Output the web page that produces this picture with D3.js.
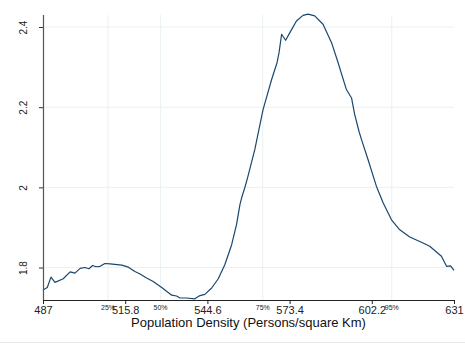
<!DOCTYPE html>
<html lang="en">
<head>
<meta charset="UTF-8">
<title>Population Density</title>
<script src="https://cdn.jsdelivr.net/npm/d3@7"></script>
<style>
  body { margin: 0; background: #fff; }
  svg { display: block; font-family: "Liberation Sans", Arial, sans-serif; }
</style>
</head>
<body>
<svg id="chart" width="465" height="349"></svg>
<script>
// density curve
var densX = [487.0, 488.5, 489.8, 491.2, 494.1, 496.5, 498.2, 500.0, 501.7, 503.1,
  504.4, 505.6, 507.0, 508.7, 510.5, 514.6, 516.9, 519.2, 521.0, 523.3,
  525.6, 528.6, 531.2, 532.1, 533.8, 535.0, 537.3, 540.2, 542.0, 543.7,
  546.1, 548.4, 550.7, 553.1, 554.8, 556.0, 556.6, 557.7, 558.6, 561.2,
  564.1, 567.1, 569.0, 569.7, 570.6, 572.0, 573.5, 575.8, 578.1, 579.9,
  582.2, 585.1, 588.1, 590.4, 593.3, 595.1, 596.2, 597.7, 598.6, 600.9,
  603.8, 606.2, 609.1, 612.0, 615.5, 619.6, 622.5, 626.6, 628.4, 629.8, 631.0];
var densY = [1.744, 1.750, 1.776, 1.763, 1.772, 1.789, 1.786, 1.798, 1.800, 1.797,
  1.805, 1.802, 1.803, 1.810, 1.809, 1.806, 1.801, 1.790, 1.784, 1.774,
  1.765, 1.750, 1.736, 1.731, 1.729, 1.724, 1.724, 1.722, 1.730, 1.733,
  1.749, 1.772, 1.807, 1.857, 1.907, 1.957, 1.974, 1.999, 2.022, 2.094,
  2.194, 2.269, 2.311, 2.336, 2.382, 2.367, 2.386, 2.415, 2.429, 2.432,
  2.428, 2.407, 2.361, 2.311, 2.244, 2.223, 2.182, 2.140, 2.119, 2.069,
  2.003, 1.961, 1.919, 1.894, 1.876, 1.863, 1.853, 1.828, 1.803, 1.804, 1.793];

var xTicks = [487, 515.8, 544.6, 573.4, 602.2, 631];
var yTicks = [1.8, 2, 2.2, 2.4];
var pctLabels = ["25%", "50%", "75%", "95%"];
var pctValues = [509.8, 528.2, 564.0, 609.2];

var svg = d3.select("#chart");

var x = d3.scaleLinear().domain([487, 631]).range([43, 454]);
var y = d3.scaleLinear().domain([1.719, 2.430]).range([300, 15]);

// light rule at the bottom of the frame
svg.append("line")
  .attr("x1", 0).attr("x2", 465)
  .attr("y1", 342.5).attr("y2", 342.5)
  .attr("stroke", "#e6e6e6");

// gridlines
svg.append("g").selectAll("line")
  .data(yTicks).enter().append("line")
  .attr("x1", 43).attr("x2", 454)
  .attr("y1", function(d) { return y(d); })
  .attr("y2", function(d) { return y(d); })
  .attr("stroke", "#eaf1f2").attr("stroke-width", 1);

svg.append("g").selectAll("line")
  .data(pctValues).enter().append("line")
  .attr("x1", function(d) { return x(d); })
  .attr("x2", function(d) { return x(d); })
  .attr("y1", 15).attr("y2", 300)
  .attr("stroke", "#eaf1f2").attr("stroke-width", 1);

// the density line
var pts = densX.map(function(d, i) { return [d, densY[i]]; });
svg.append("path")
  .datum(pts)
  .attr("fill", "none")
  .attr("stroke", "#1a476f")
  .attr("stroke-width", 1.2)
  .attr("stroke-linejoin", "round")
  .attr("d", d3.line()
    .x(function(d) { return x(d[0]); })
    .y(function(d) { return y(d[1]); }));

// x axis
var xAxis = svg.append("g")
  .attr("transform", "translate(0,300)")
  .call(d3.axisBottom(x).tickValues(xTicks).tickSize(4).tickFormat(d3.format("")));
xAxis.select(".domain").attr("stroke", "#222").attr("stroke-width", 1.2);
xAxis.selectAll(".tick line").attr("stroke", "#222");
xAxis.selectAll(".tick text")
  .attr("font-size", 11).attr("fill", "#222").attr("dy", "0.71em").attr("y", 6)
  .attr("font-family", "Liberation Sans, Arial, sans-serif");
xAxis.select(".domain").attr("d", "M43,0.5H454");

// y axis
var yAxis = svg.append("g")
  .attr("transform", "translate(43,0)")
  .call(d3.axisLeft(y).tickValues(yTicks).tickSize(4).tickFormat(d3.format("")));
yAxis.select(".domain").attr("stroke", "#555").attr("stroke-width", 1.2)
  .attr("d", "M0.5,15V300");
yAxis.selectAll(".tick line").attr("stroke", "#333");
yAxis.selectAll(".tick text").remove();
yAxis.selectAll(".tick").append("text")
  .attr("transform", "translate(-20,0) rotate(-90)")
  .attr("text-anchor", "middle")
  .attr("dy", "0.35em")
  .attr("font-size", 10)
  .attr("fill", "#222")
  .attr("font-family", "Liberation Sans, Arial, sans-serif")
  .text(function(d) { return d3.format("")(d); });

// percentile markers
svg.append("g").selectAll("text")
  .data(pctValues).enter().append("text")
  .attr("x", function(d) { return x(d); })
  .attr("y", 310)
  .attr("text-anchor", "middle")
  .attr("font-size", 7)
  .attr("fill", "#222")
  .text(function(d, i) { return pctLabels[i]; });

// axis title
svg.append("text")
  .attr("x", 248.5).attr("y", 327)
  .attr("text-anchor", "middle")
  .attr("font-size", 13)
  .attr("fill", "#111")
  .text("Population Density (Persons/square Km)");
</script>
</body>
</html>
